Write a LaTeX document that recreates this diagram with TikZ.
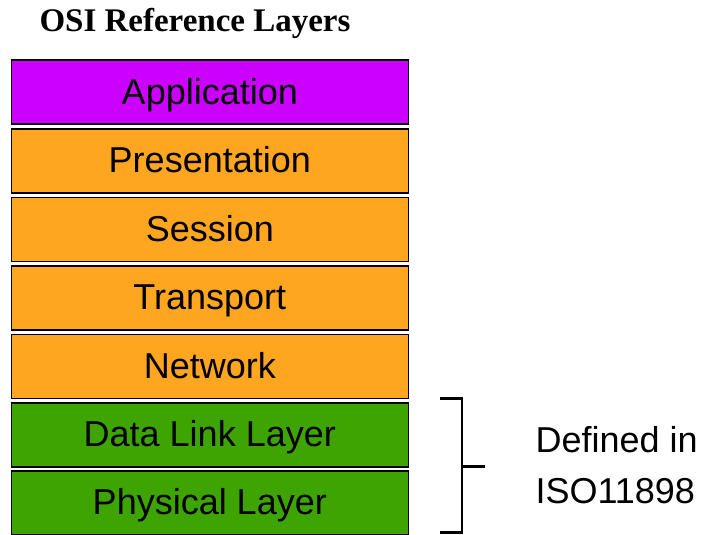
\documentclass[tikz,border=0pt]{standalone}
\usepackage{fontspec}
\setmainfont{Liberation Sans}
\newfontfamily\titlefont{Liberation Serif}
\begin{document}
\begin{tikzpicture}[x=1pt,y=-1pt,
  layer/.style={draw=black,line width=1.6pt,minimum width=397pt,minimum height=64pt,
    text height=44pt,text depth=20pt,
    inner sep=0pt,font=\fontsize{36}{40}\selectfont,text=black,anchor=north west},
  app/.style={layer,fill={rgb,255:red,204;green,0;blue,255}},
  mid/.style={layer,fill={rgb,255:red,255;green,166;blue,32}},
  low/.style={layer,fill={rgb,255:red,62;green,164;blue,2}},
  bracestyle/.style={line width=2.6pt,line cap=butt,line join=miter}]
\useasboundingbox (0,0) rectangle (705,535);
\node[font=\titlefont\bfseries\fontsize{33}{36}\selectfont,anchor=base] (title) at (195,32) {OSI Reference Layers};
\node[app] (application) at (10.5,59.5) {Application};
\node[mid] (presentation) at (10.5,128) {Presentation};
\node[mid] (session) at (10.5,196.5) {Session};
\node[mid] (transport) at (10.5,265) {Transport};
\node[mid] (network) at (10.5,333.5) {Network};
\node[low] (datalink) at (10.5,402) {Data Link Layer};
\node[low] (physical) at (10.5,470) {Physical Layer};
\draw[bracestyle] (440,398.5) -- (462,398.5) -- (462,532.5) -- (440,532.5);
\draw[bracestyle] (462,466.5) -- (485,466.5);
\node[font=\fontsize{36}{51}\selectfont,anchor=base west,align=left] (defined) at (532,452) {Defined in};
\node[font=\fontsize{36}{51}\selectfont,anchor=base west,align=left] (iso) at (532,503) {ISO11898};
\end{tikzpicture}
\end{document}
